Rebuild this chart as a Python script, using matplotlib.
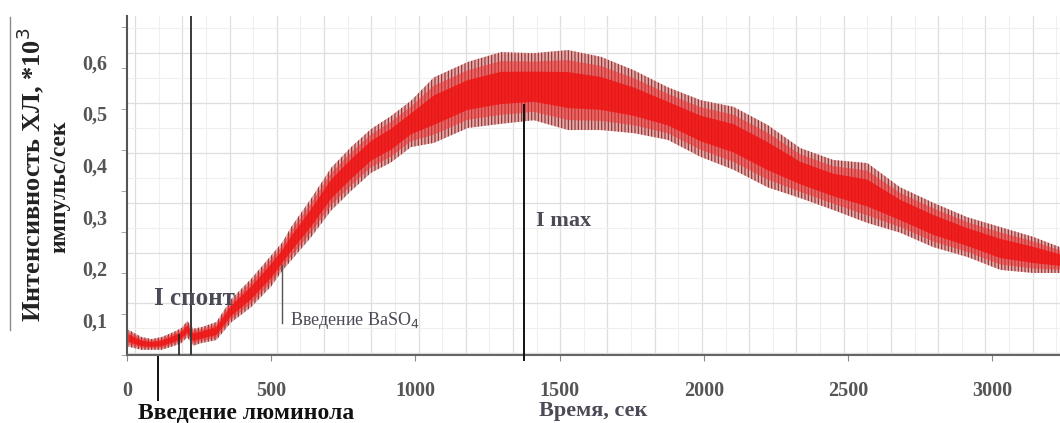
import matplotlib.pyplot as plt
from matplotlib.lines import Line2D
import numpy as np

# Chemiluminescence intensity, upper / lower edges of the noisy trace
time_s = [5, 50, 85, 120, 155, 188, 209, 230, 258, 310, 361, 431, 500, 538,
          569, 638, 708, 777, 846, 915, 985, 1064, 1182, 1296, 1411, 1529,
          1643, 1757, 1875, 1989, 2103, 2221, 2335, 2449, 2567, 2681, 2796,
          2914, 3028, 3142, 3235]
upper = [0.081, 0.067, 0.063, 0.067, 0.075, 0.084, 0.098, 0.083, 0.086, 0.096,
         0.140, 0.180, 0.225, 0.250, 0.280, 0.335, 0.395, 0.435, 0.470, 0.495,
         0.525, 0.570, 0.600, 0.619, 0.617, 0.623, 0.610, 0.584, 0.551, 0.526,
         0.513, 0.478, 0.433, 0.410, 0.404, 0.357, 0.327, 0.299, 0.280, 0.261,
         0.241]
lower = [0.048, 0.042, 0.042, 0.042, 0.048, 0.055, 0.066, 0.050, 0.055, 0.061,
         0.095, 0.125, 0.165, 0.195, 0.215, 0.260, 0.312, 0.350, 0.385, 0.405,
         0.435, 0.443, 0.472, 0.480, 0.487, 0.468, 0.468, 0.462, 0.449, 0.416,
         0.391, 0.357, 0.336, 0.313, 0.288, 0.269, 0.241, 0.222, 0.197, 0.191,
         0.191]

x_ticks = [0, 500, 1000, 1500, 2000, 2500, 3000]
y_ticks = [0.1, 0.2, 0.3, 0.4, 0.5, 0.6]
y_ticklabels = ["0,1", "0,2", "0,3", "0,4", "0,5", "0,6"]

t_luminol = 109      # luminol injection
t_spont = 223        # spontaneous level marker
t_spont_short = 181
t_baso4 = 538        # BaSO4 injection
t_imax = 1376        # maximum intensity

plt.rcParams['font.family'] = ['Liberation Serif', 'DejaVu Serif']
plt.rcParams['hatch.linewidth'] = 0.8

fig = plt.figure(figsize=(10.6, 4.23), dpi=100)
ax = fig.add_axes([127 / 1060, 1 - 355 / 423, 1 - 127 / 1060, 339 / 423])
ax.set_xlim(5, 3235)
ax.set_ylim(0.032, 0.689)

# background grid of the recorder chart
for gx in np.arange(28, 3300, 163.8):
    ax.axvline(gx, color='#dedede', lw=0.9, zorder=0)
    ax.axvline(gx + 81.9, color='#efefef', lw=0.8, zorder=0)
for gy in np.arange(0.036, 0.69, 0.0969):
    ax.axhline(gy, color='#dedede', lw=0.9, zorder=0)
    ax.axhline(gy + 0.0485, color='#efefef', lw=0.8, zorder=0)

# signal: hatched outer band for the spikes, red core on top
t = np.array(time_s)
hi = np.array(upper)
lo = np.array(lower)
mid = (hi + lo) / 2
half = (hi - lo) / 2
ax.fill_between(t, lo, hi, facecolor='#f4a3a3', edgecolor='#6e3a3a',
                hatch='|||||', linewidth=0, zorder=2)
ax.fill_between(t, mid - half * 0.75, mid + half * 0.75, facecolor='#f03030',
                alpha=0.55, linewidth=0, zorder=3)
ax.fill_between(t, mid - half * 0.45, mid + half * 0.45, facecolor='#f01010',
                alpha=0.8, linewidth=0, zorder=3)

# markers
ax.axvline(t_spont, color='#3a3a3a', lw=1.4, zorder=4)
ax.plot([t_spont_short, t_spont_short], [0.032, 0.071], color='#222', lw=1.2, zorder=4)
ax.plot([t_baso4, t_baso4], [0.094, 0.207], color='#555', lw=1.0, zorder=4)
ax.plot([t_imax, t_imax], [0.0225, 0.516], color='#111', lw=1.4, zorder=4, clip_on=False)
ax.plot([t_luminol, t_luminol], [0.028, -0.055], color='#111', lw=1.4, clip_on=False)

ax.text(235, 0.142, "I спонт", ha='center', va='center', fontsize=18,
        fontweight='bold', color='#4b4b57', zorder=5)
ax.text(566, 0.098, "Введение BaSO$_4$", ha='left', va='center', fontsize=13,
        color='#4b4b57', zorder=5)
ax.text(1418, 0.292, "I max", ha='left', va='center', fontsize=16,
        fontweight='bold', color='#4b4b57', zorder=5)

# axes styling
for side in ['top', 'right']:
    ax.spines[side].set_visible(False)
ax.spines['left'].set_color('#555555')
ax.spines['left'].set_linewidth(1.5)
ax.spines['bottom'].set_color('#666666')
ax.spines['bottom'].set_linewidth(1.5)

ax.set_xticks(x_ticks)
ax.set_xticklabels([str(v) for v in x_ticks])
ax.set_yticks(y_ticks)
ax.set_yticklabels(y_ticklabels)
ax.set_yticks(np.arange(0.032, 0.69, 0.0795), minor=True)
ax.tick_params(axis='x', length=4, color='#888', pad=15, labelsize=14.5,
               labelcolor='#555555')
ax.tick_params(axis='y', which='major', length=0, pad=14, labelsize=14.5,
               labelcolor='#555555')
ax.tick_params(axis='y', which='minor', length=4, color='#999')
for lab in ax.get_xticklabels() + ax.get_yticklabels():
    lab.set_fontweight('bold')

fig.text(593 / 1060, 1 - 411 / 423, "Время, сек", ha='center', va='center',
         fontsize=16, fontweight='bold', color='#4b4b57')
fig.text(138 / 1060, 1 - 413 / 423, "Введение люминола", ha='left', va='center',
         fontsize=17, fontweight='bold', color='#111111')
fig.text(30 / 1060, 1 - 175 / 423, "Интенсивность ХЛ, *10$^3$",
         rotation=90, ha='center', va='center', fontsize=19,
         fontweight='bold', color='#222222')
fig.text(60 / 1060, 1 - 187 / 423, "импульс/сек",
         rotation=90, ha='center', va='center', fontsize=17,
         fontweight='bold', color='#222222')
fig.add_artist(Line2D([10 / 1060, 10 / 1060], [1 - 330 / 423, 1 - 17 / 423],
                      color='#8a8a8a', lw=1.0))

fig.savefig("out.png", dpi=100)
